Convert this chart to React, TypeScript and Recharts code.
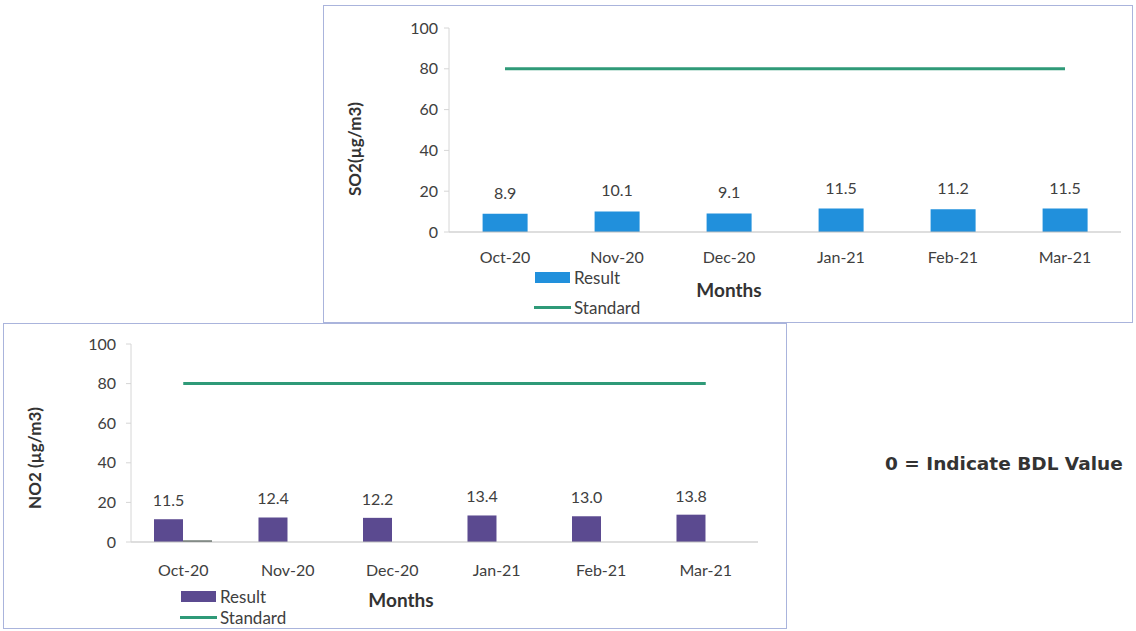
import { Bar, ComposedChart, LabelList, Legend, Line, XAxis, YAxis } from "recharts"

const months = ["Oct-20", "Nov-20", "Dec-20", "Jan-21", "Feb-21", "Mar-21"]
const so2Result = [8.9, 10.1, 9.1, 11.5, 11.2, 11.5]
const no2Result = [11.5, 12.4, 12.2, 13.4, 13.0, 13.8]
const no2Bdl = [0.8, 0, 0, 0, 0, 0]
const standard = [80, 80, 80, 80, 80, 80]
const yTicks = [0, 20, 40, 60, 80, 100]

const so2Data = months.map((m, i) => ({ month: m, result: so2Result[i], standard: standard[i] }))
const no2Data = months.map((m, i) => ({ month: m, result: no2Result[i], bdl: no2Bdl[i], standard: standard[i] }))

const font = "Lato, 'Open Sans', sans-serif"
const txt = "#404040"
const green = "#2f9a78"

// legend is 56px tall, gap = distance between the two rows
function LegendBox({ color, gap }: { color: string; gap: number }) {
  return (
    <svg width={140} height={56} style={{ display: "block", overflow: "visible" }}>
      <rect x={1} y={6} width={35} height={11} fill={color} />
      <text x={40} y={11} dominantBaseline="central" fontSize={17} fill={txt} fontFamily={font}>Result</text>
      <line x1={0} x2={37} y1={11.5 + gap} y2={11.5 + gap} stroke={green} strokeWidth={3} />
      <text x={40} y={11.5 + gap} dominantBaseline="central" fontSize={17} fill={txt} fontFamily={font}>Standard</text>
    </svg>
  )
}

export default function App() {
  return (
    <div style={{ position: "absolute", left: 0, top: 0, width: 1136, height: 631, background: "#fff", fontFamily: font }}>
      {/* SO2 chart */}
      <div style={{ position: "absolute", left: 323, top: 5, width: 810, height: 318, border: "1.5px solid #aab4dc", boxSizing: "border-box" }}>
        <ComposedChart width={810} height={316} data={so2Data} margin={{ top: 22, right: 13, left: 0, bottom: 4 }} barCategoryGap="30%">
          <XAxis
            dataKey="month"
            tickLine={false}
            axisLine={{ stroke: "#bdbdbd" }}
            tick={{ fill: txt, fontSize: 16, fontFamily: font }}
            tickMargin={14}
            label={{
              content: () => (
                <text x={405} y={283} textAnchor="middle" dominantBaseline="central" fontSize={19} fontWeight="bold" fill="#333" fontFamily={font}>Months</text>
              ),
            }}
          />
          <YAxis
            width={125}
            domain={[0, 100]}
            ticks={yTicks}
            interval={0}
            axisLine={{ stroke: "#d6d6d6" }}
            tickLine={{ stroke: "#d6d6d6" }}
            tickSize={5}
            tickMargin={6}
            tick={{ fill: txt, fontSize: 16, fontFamily: font }}
            label={{
              content: () => (
                <text x={30} y={143} transform="rotate(-90 30 143)" textAnchor="middle" dominantBaseline="central" fontSize={17} fontWeight="bold" fill="#333" fontFamily={font}>SO2(µg/m3)</text>
              ),
            }}
          />
          <Legend content={() => <LegendBox color="#2190dc" gap={30} />} wrapperStyle={{ left: 210, top: 260, width: 140, height: 56 }} />
          <Bar dataKey="result" name="Result" fill="#2190dc" isAnimationActive={false}>
            <LabelList dataKey="result" position="top" offset={15} fill={txt} fontSize={16} fontFamily={font} formatter={(v: any) => Number(v).toFixed(1)} />
          </Bar>
          <Line dataKey="standard" name="Standard" stroke={green} strokeWidth={3} dot={false} isAnimationActive={false} />
        </ComposedChart>
      </div>

      {/* NO2 chart */}
      <div style={{ position: "absolute", left: 3, top: 323, width: 784, height: 306, border: "1.5px solid #aab4dc", boxSizing: "border-box" }}>
        <ComposedChart width={784} height={304} data={no2Data} margin={{ top: 20, right: 30, left: 0, bottom: 0 }} barCategoryGap="22%" barGap={0}>
          <XAxis
            dataKey="month"
            tickLine={false}
            axisLine={{ stroke: "#bdbdbd" }}
            tick={{ fill: txt, fontSize: 16, fontFamily: font }}
            tickMargin={17}
            label={{
              content: () => (
                <text x={397} y={275} textAnchor="middle" dominantBaseline="central" fontSize={19} fontWeight="bold" fill="#333" fontFamily={font}>Months</text>
              ),
            }}
          />
          <YAxis
            width={127}
            domain={[0, 100]}
            ticks={yTicks}
            interval={0}
            axisLine={{ stroke: "#d6d6d6" }}
            tickLine={{ stroke: "#d6d6d6" }}
            tickSize={5}
            tickMargin={10}
            tick={{ fill: txt, fontSize: 16, fontFamily: font }}
            label={{
              content: () => (
                <text x={30} y={134} transform="rotate(-90 30 134)" textAnchor="middle" dominantBaseline="central" fontSize={17} fontWeight="bold" fill="#333" fontFamily={font}>NO2 (µg/m3)</text>
              ),
            }}
          />
          <Legend content={() => <LegendBox color="#5b4a90" gap={21} />} wrapperStyle={{ left: 176, top: 261, width: 140, height: 56 }} />
          <Bar dataKey="result" name="Result" fill="#5b4a90" isAnimationActive={false}>
            <LabelList dataKey="result" position="top" offset={13} fill={txt} fontSize={16} fontFamily={font} formatter={(v: any) => Number(v).toFixed(1)} />
          </Bar>
          <Bar dataKey="bdl" name="BDL" fill="#4d5a52" legendType="none" isAnimationActive={false} />
          <Line dataKey="standard" name="Standard" stroke={green} strokeWidth={3} dot={false} isAnimationActive={false} />
        </ComposedChart>
      </div>

      <div style={{ position: "absolute", left: 885, top: 453, fontFamily: "'DejaVu Sans', sans-serif", fontWeight: "bold", fontSize: 18.5, color: "#333", whiteSpace: "nowrap" }}>
        0 = Indicate BDL Value
      </div>
    </div>
  )
}
